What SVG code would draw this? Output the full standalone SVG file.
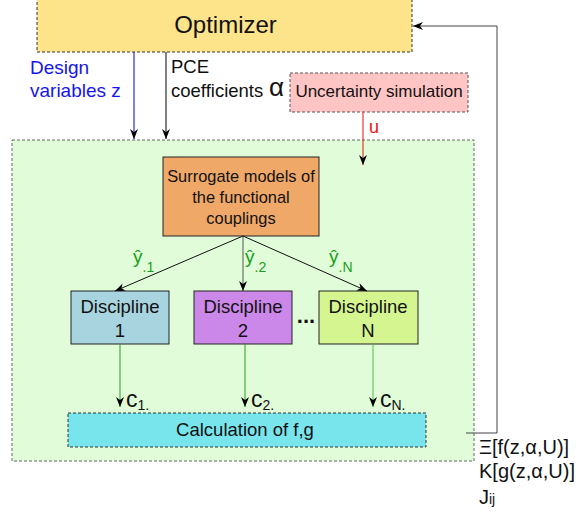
<svg xmlns="http://www.w3.org/2000/svg" width="579" height="512" viewBox="0 0 579 512">
<defs>
<style>
text{font-family:"Liberation Sans",Arial,sans-serif;}
.dash{stroke:#333;stroke-width:1;stroke-dasharray:3,2;}
.solid{stroke:#222;stroke-width:1;}
.lbl{font-size:18.5px;fill:#111;}
.grn{fill:#1a9e1a;}
</style>
<marker id="ah" viewBox="0 0 10 10" refX="10" refY="5" markerWidth="10" markerHeight="10" markerUnits="userSpaceOnUse" orient="auto">
<path d="M0,1 L10,5 L0,9 L3,5 z" fill="#000"/>
</marker>
</defs>
<rect width="579" height="512" fill="#fff"/>
<g id="container">
<rect x="12" y="140" width="462" height="321" fill="#e0fcd8" stroke="#666" stroke-width="1" stroke-dasharray="3,2"/>
</g>
<g id="optimizer">
<rect x="37" y="-1" width="375" height="53" fill="#fde38a" class="dash"/>
<text x="225.5" y="33" font-size="24" text-anchor="middle" fill="#111">Optimizer</text>
</g>
<g id="uncertainty">
<rect x="290" y="73" width="178" height="39" fill="#ffc4c4" stroke="#555" stroke-width="1" stroke-dasharray="3,2"/>
<text x="379" y="97" font-size="17" text-anchor="middle" fill="#111">Uncertainty simulation</text>
</g>
<g id="surrogate">
<rect x="163" y="157" width="156" height="79" fill="#f0a868" class="solid"/>
<text x="241" y="182" font-size="16.4" text-anchor="middle" fill="#111">Surrogate models of</text>
<text x="241" y="203" font-size="16.4" text-anchor="middle" fill="#111">the functional</text>
<text x="241" y="224" font-size="16.4" text-anchor="middle" fill="#111">couplings</text>
</g>
<g id="discipline1">
<rect x="71" y="291" width="98" height="53" fill="#a8d4e0" class="solid"/>
<text x="120" y="313" class="lbl" text-anchor="middle">Discipline</text>
<text x="120" y="337" class="lbl" text-anchor="middle">1</text>
</g>
<g id="discipline2">
<rect x="194" y="291" width="98" height="53" fill="#cc88e8" class="solid"/>
<text x="243" y="313" class="lbl" text-anchor="middle">Discipline</text>
<text x="243" y="337" class="lbl" text-anchor="middle">2</text>
</g>
<g id="disciplineN">
<rect x="319" y="291" width="99" height="53" fill="#d4f590" class="solid"/>
<text x="368" y="313" class="lbl" text-anchor="middle">Discipline</text>
<text x="368" y="337" class="lbl" text-anchor="middle">N</text>
</g>
<g id="dots">
<text x="306" y="323" font-size="22" font-weight="bold" text-anchor="middle" fill="#111">...</text>
</g>
<g id="calc">
<rect x="68" y="413" width="358" height="34" fill="#78e4ec" class="dash"/>
<text x="245" y="436" font-size="18.5" text-anchor="middle" fill="#111">Calculation of f,g</text>
</g>
<g id="connectors" fill="none">
<line x1="134" y1="52" x2="134" y2="139" stroke="#0000ee" stroke-width="1" marker-end="url(#ah)"/>
<line x1="166" y1="52" x2="166" y2="139" stroke="#000" stroke-width="1" marker-end="url(#ah)"/>
<line x1="363" y1="112" x2="363" y2="165" stroke="#ee1111" stroke-width="1" marker-end="url(#ah)"/>
<line x1="243" y1="236" x2="115" y2="291" stroke="#111" stroke-width="1" marker-end="url(#ah)"/>
<line x1="243" y1="236" x2="243" y2="291" stroke="#555" stroke-width="1" marker-end="url(#ah)"/>
<line x1="243" y1="236" x2="367" y2="291" stroke="#111" stroke-width="1" marker-end="url(#ah)"/>
<line x1="120" y1="344" x2="120" y2="407" stroke="#2a9a2a" stroke-width="1" marker-end="url(#ah)"/>
<line x1="245" y1="344" x2="245" y2="407" stroke="#2a9a2a" stroke-width="1" marker-end="url(#ah)"/>
<line x1="373" y1="344" x2="373" y2="407" stroke="#55bb55" stroke-width="1" marker-end="url(#ah)"/>
<polyline points="466,433 497,433 497,26 413,26" stroke="#444" stroke-width="1" marker-end="url(#ah)"/>
</g>
<g id="labels">
<text x="30" y="74" font-size="19" fill="#1515ee">Design</text>
<text x="30" y="97" font-size="19" fill="#1515ee">variables z</text>
<text x="171" y="73" font-size="18.5" fill="#111">PCE</text>
<text x="171" y="97" font-size="18.5" fill="#111">coefficients</text>
<text x="269" y="96" font-size="26" fill="#111">α</text>
<text x="369" y="133" font-size="18" fill="#ee1111">u</text>
<text x="133" y="263" font-size="19" class="grn">ŷ<tspan font-size="14" dy="9">.1</tspan></text>
<text x="245" y="263" font-size="19" class="grn">ŷ<tspan font-size="14" dy="9">.2</tspan></text>
<text x="329" y="263" font-size="19" class="grn">ŷ<tspan font-size="14" dy="9">.N</tspan></text>
<text x="126" y="407" font-size="23" fill="#111">c<tspan font-size="14" dy="3">1.</tspan></text>
<text x="251" y="407" font-size="23" fill="#111">c<tspan font-size="14" dy="3">2.</tspan></text>
<text x="380" y="407" font-size="23" fill="#111">c<tspan font-size="14" dy="3">N.</tspan></text>
<text x="479" y="454" font-size="20" fill="#111">Ξ[f(z,α,U)]</text>
<text x="479" y="478" font-size="20" fill="#111">K[g(z,α,U)]</text>
<text x="479" y="504" font-size="20" fill="#111">J<tspan font-size="14">ij</tspan></text>
</g>
</svg>
